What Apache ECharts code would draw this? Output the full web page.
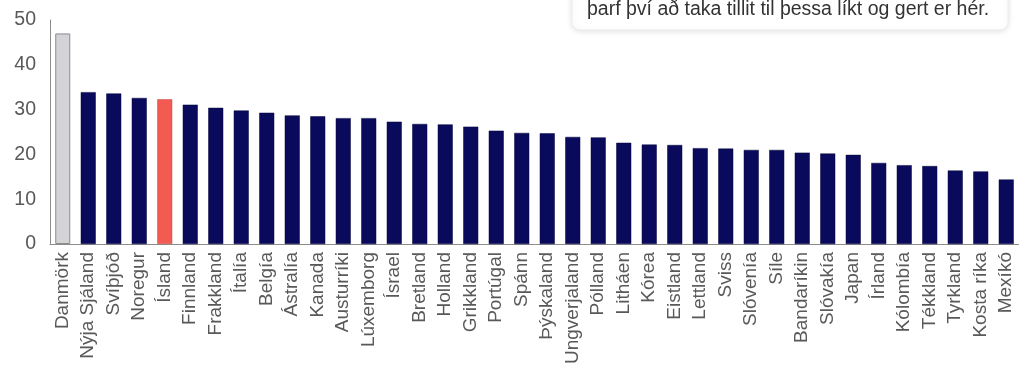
<!DOCTYPE html>
<html>
<head>
<meta charset="utf-8">
<script src="https://cdn.jsdelivr.net/npm/echarts@6/dist/echarts.min.js"></script>
<style>
  html, body { margin: 0; padding: 0; background: #fff; }
  #chart { width: 1019px; height: 367px; }
</style>
</head>
<body>
<div id="chart"></div>
<script>
// Countries, sorted by value
const countries = [
  'Danmörk', 'Nýja Sjáland', 'Svíþjóð', 'Noregur', 'Ísland', 'Finnland',
  'Frakkland', 'Ítalía', 'Belgía', 'Ástralía', 'Kanada', 'Austurríki',
  'Lúxemborg', 'Ísrael', 'Bretland', 'Holland', 'Grikkland', 'Portúgal',
  'Spánn', 'Þýskaland', 'Ungverjaland', 'Pólland', 'Litháen', 'Kórea',
  'Eistland', 'Lettland', 'Sviss', 'Slóvenía', 'Síle', 'Bandaríkin',
  'Slóvakía', 'Japan', 'Írland', 'Kólombía', 'Tékkland', 'Tyrkland',
  'Kosta ríka', 'Mexíkó'
];

const values = [
  47.0, 33.9, 33.6, 32.6, 32.3, 31.1,
  30.4, 29.8, 29.3, 28.7, 28.5, 28.1,
  28.1, 27.3, 26.8, 26.7, 26.2, 25.3,
  24.8, 24.7, 23.9, 23.8, 22.6, 22.2,
  22.1, 21.4, 21.3, 21.0, 21.0, 20.4,
  20.2, 19.9, 18.1, 17.6, 17.4, 16.4,
  16.2, 14.4
];

const yTicks = [0, 10, 20, 30, 40, 50];

const noteText = 'þarf því að taka tillit til þessa líkt og gert er hér.';

const greyCountry = 'Danmörk';
const redCountry = 'Ísland';

const FONT = 'Liberation Sans, Arial, sans-serif';

const chart = echarts.init(document.getElementById('chart'));

function barStyle(name) {
  if (name === greyCountry) {
    return { color: '#d4d4d8', borderColor: '#8a8a8a', borderWidth: 1 };
  }
  if (name === redCountry) {
    return { color: '#f25a52', borderColor: '#c94a44', borderWidth: 0.5 };
  }
  return { color: '#0a0a5c', borderColor: '#05053c', borderWidth: 0.5 };
}

chart.setOption({
  animation: false,
  textStyle: { fontFamily: FONT },
  grid: { left: 50, top: 20, width: 974, height: 225 },
  xAxis: {
    type: 'category',
    data: countries,
    axisLine: { lineStyle: { color: '#8c8c8c', width: 1 } },
    axisTick: { show: false },
    axisLabel: {
      rotate: 90,
      interval: 0,
      margin: 8,
      fontSize: 19,
      color: '#595959'
    }
  },
  yAxis: {
    type: 'value',
    min: yTicks[0],
    max: yTicks[yTicks.length - 1],
    interval: 10,
    axisLine: { show: true, lineStyle: { color: '#8c8c8c', width: 1 } },
    axisTick: { show: false },
    splitLine: { show: false },
    axisLabel: { fontSize: 19.5, color: '#595959', margin: 14 }
  },
  series: [{
    type: 'bar',
    barWidth: 15,
    data: countries.map((c, i) => ({ value: values[i], itemStyle: barStyle(c) }))
  }],
  graphic: [
    {
      type: 'rect',
      shape: { x: 572, y: -12, width: 436, height: 42, r: 8 },
      style: {
        fill: '#fff',
        stroke: '#ececec',
        lineWidth: 1,
        shadowBlur: 6,
        shadowOffsetY: 1,
        shadowColor: 'rgba(0,0,0,0.12)'
      },
      z: 10
    },
    {
      type: 'text',
      x: 587,
      y: 0,
      style: {
        text: noteText,
        fontSize: 19.5,
        fill: '#333',
        fontFamily: FONT
      },
      z: 11
    }
  ]
});
</script>
</body>
</html>
